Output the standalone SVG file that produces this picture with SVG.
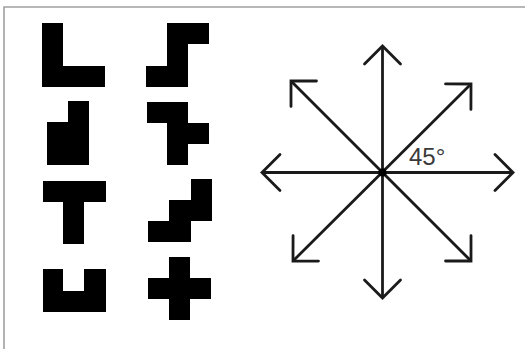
<svg xmlns="http://www.w3.org/2000/svg" width="525" height="349" viewBox="0 0 525 349">
<style>
.tile{fill:#000}
.frame{stroke:#a0a0a0;stroke-width:1.6;fill:none}
.arrow{stroke:#1a1a1a;stroke-width:2.8;fill:none;marker-start:url(#head);marker-end:url(#head)}
.lbl{font-family:"Liberation Sans",Arial,sans-serif;font-size:24px;fill:#3a3a3a}
</style>
<defs>
<marker id="head" markerUnits="userSpaceOnUse" viewBox="-22 -22 26 44" refX="0" refY="0" markerWidth="26" markerHeight="44" orient="auto-start-reverse">
<path d="M-18,-18 L0,0 L-18,18" fill="none" stroke="#1a1a1a" stroke-width="2.8" stroke-linecap="round" stroke-linejoin="miter"/>
</marker>
</defs>
<rect width="525" height="349" fill="#fff"/>
<g id="frame">
<path class="frame" d="M4,349 V7 H525"/>
</g>
<g id="shape-L"><polygon class="tile" points="42,23 63,23 63,66 105,66 105,87 42,87"/></g>
<g id="shape-S"><polygon class="tile" points="167,23 209,23 209,44 188,44 188,87 146,87 146,66 167,66"/></g>
<g id="shape-P"><polygon class="tile" points="68,101 89,101 89,165 47,165 47,122 68,122"/></g>
<g id="shape-F"><polygon class="tile" points="147,102 188,102 188,123 209,123 209,144 188,144 188,165 167,165 167,123 147,123"/></g>
<g id="shape-T"><polygon class="tile" points="43,181 106,181 106,202 84,202 84,244 63,244 63,202 43,202"/></g>
<g id="shape-W"><polygon class="tile" points="191,179 212,179 212,221 191,221 191,242 148,242 148,221 169,221 169,200 191,200"/></g>
<g id="shape-U"><polygon class="tile" points="43,269 63,269 63,291 84,291 84,269 106,269 106,312 43,312"/></g>
<g id="shape-X"><polygon class="tile" points="169,257 190,257 190,278 211,278 211,299 190,299 190,320 169,320 169,299 148,299 148,278 169,278"/></g>
<g id="connectors">
<line class="arrow" x1="262" y1="172.5" x2="513" y2="172.5"/>
<line class="arrow" x1="382.5" y1="298" x2="382.5" y2="46"/>
<line class="arrow" x1="471" y1="261" x2="291" y2="81"/>
<line class="arrow" x1="293" y1="261" x2="471" y2="84"/>
</g>
<g id="center"><circle cx="382.5" cy="172.5" r="4" fill="#000"/></g>
<g id="label"><text class="lbl" x="409" y="165">45°</text></g>
</svg>
